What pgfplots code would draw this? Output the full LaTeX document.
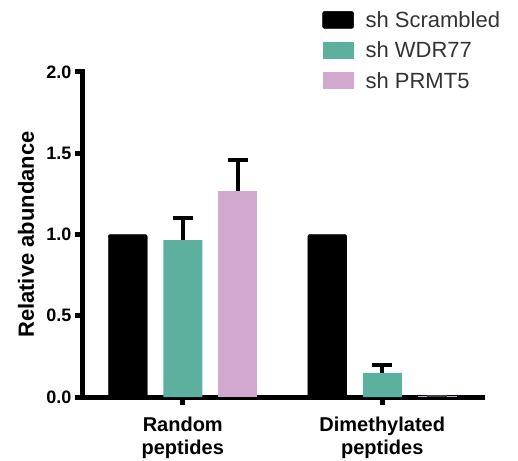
\documentclass[border=0pt]{standalone}
\usepackage{pgfplots}
\pgfplotsset{compat=1.18}
\usepackage{fontspec}
\setmainfont{Liberation Sans}
\definecolor{shteal}{HTML}{5DB09D}
\definecolor{shpink}{HTML}{D1A9CF}
\definecolor{legtext}{HTML}{333333}

\begin{document}
\begin{tikzpicture}
\useasboundingbox (-83pt,-63pt) rectangle (435pt,397pt);
\begin{axis}[
    at={(0,0)}, anchor=south west,
    scale only axis, width=399pt, height=325pt,
    xmin=-0.5, xmax=1.5, ymin=0, ymax=2,
    axis lines*=left,
    axis line style={line width=5pt, line cap=rect},
    ytick={0,0.5,1,1.5,2}, xtick={0,1},
    xticklabels={Random\\peptides, Dimethylated\\peptides},
    tick style={line width=5pt, black},
    major tick length=8pt, tick align=outside,
    yticklabel style={font=\fontsize{18}{20}\selectfont\bfseries,
        /pgf/number format/fixed, /pgf/number format/fixed zerofill,
        /pgf/number format/precision=1, /pgf/number format/assume math mode=true},
    xticklabel style={font=\fontsize{20}{23}\selectfont\bfseries, align=center, yshift=-8pt},
    ylabel={Relative abundance},
    ylabel style={font=\fontsize{22}{24}\selectfont\bfseries,
        at={(axis description cs:-0.143,0.5)}, anchor=center},
    ybar, bar width=39pt,
    legend style={at={(0.592,1.2)}, anchor=north west, draw=none, fill=none,
        font=\fontsize{22}{24}\selectfont\color{legtext}, row sep=9pt,
        cells={anchor=west}},
    legend image code/.code={\fill[#1] (0pt,-8.5pt) rectangle (31pt,8.5pt);
        \path[draw=none, fill=none] (0pt,0pt) -- (41pt,0pt);},
    clip=false,
    ]
\addplot[fill=black, draw=black, rounded corners=2pt, bar shift=-55pt]
    coordinates {(0,1.0) (1,1.0)};
\addplot[fill=shteal, draw=none, bar shift=0pt,
    error bars/.cd, y dir=plus, y explicit,
    error bar style={draw=black, line width=4pt},
    error mark options={rotate=90, mark size=10pt, line width=4pt, draw=black}]
    coordinates {(0,0.966) +- (0,0.134) (1,0.148) +- (0,0.052)};
\addplot[fill=shpink, draw=none, bar shift=55pt,
    error bars/.cd, y dir=plus, y explicit,
    error bar style={draw=black, line width=4pt},
    error mark options={rotate=90, mark size=10pt, line width=4pt, draw=black}]
    coordinates {(0,1.268) +- (0,0.192)};
\legend{sh Scrambled, sh WDR77, sh PRMT5}
\addplot[fill=shpink, draw=none, bar shift=55pt, forget plot,
    error bars/.cd, y dir=plus, y explicit,
    error bar style={draw=black!75, line width=2pt},
    error mark options={rotate=90, mark size=10pt, line width=2pt, draw=black!75}]
    coordinates {(1,0.004) +- (0,0.0)};
\end{axis}
\end{tikzpicture}
\end{document}
